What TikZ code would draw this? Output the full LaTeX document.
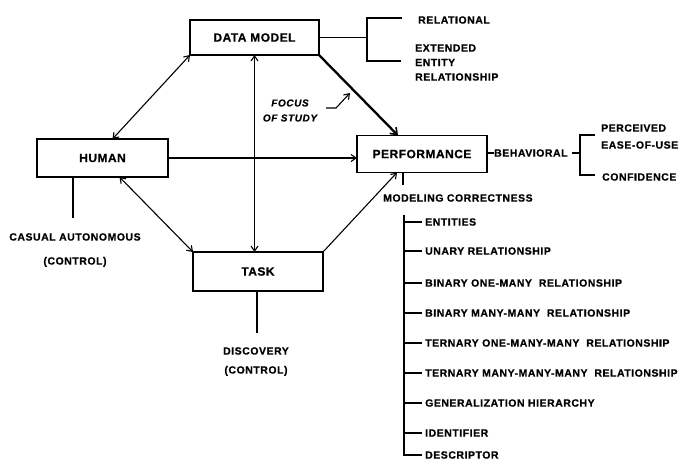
\documentclass[tikz,border=0pt]{standalone}
\usepackage{fontspec}
\setmainfont{Liberation Sans}[FakeBold=0.6]
\usetikzlibrary{arrows.meta}
\begin{document}
\begin{tikzpicture}[x=1pt,y=-1pt,
  box/.style={draw,line width=1.4pt,inner sep=0pt,outer sep=0pt,
    font=\bfseries\fontsize{12}{14}\selectfont\addfontfeature{LetterSpace=4}},
  conn/.style={line width=1.1pt},
  tip/.style={-{Straight Barb[length=5pt,width=7pt,line width=1.1pt]}},
  tips/.style={{Straight Barb[length=5pt,width=7pt,line width=1.1pt]}-{Straight Barb[length=5pt,width=7pt,line width=1.1pt]}},
  lbl/.style={inner sep=0pt,anchor=west,font=\bfseries\fontsize{10.5}{12}\selectfont\addfontfeature{LetterSpace=5}},
  lblc/.style={inner sep=0pt,align=center,font=\bfseries\fontsize{10.5}{12}\selectfont\addfontfeature{LetterSpace=5}}]
\useasboundingbox[fill=white] (0,0) rectangle (690,459);

% boxes
\node[box,minimum width=129pt,minimum height=35pt] (dm) at (254.5,37.5) {DATA MODEL};
\node[box,minimum width=131pt,minimum height=38pt] (hu) at (102.5,158) {HUMAN};
\node[box,minimum width=130pt,minimum height=37pt] (pf) at (422,154) {PERFORMANCE};
\node[box,minimum width=130pt,minimum height=39pt] (tk) at (258,271.5) {TASK};

% main connectors
\draw[conn,tips] (dm.south west) -- ([xshift=10pt]hu.north);
\draw[conn,tips] ([xshift=17pt]hu.south) -- (tk.north west);
\draw[conn,tip] (hu.east) -- (hu.east -| pf.west);
\draw[line width=2.3pt,-{Straight Barb[length=6pt,width=9pt,line width=1.6pt]}] (dm.south east) -- ([xshift=-24pt]pf.north);
\draw[conn,tip] (tk.north east) -- ([xshift=-25pt]pf.south);
\draw[conn,tips] (dm.south) -- (dm.south |- tk.north);

% data model bracket
\coordinate (b1) at (367,37.5);
\coordinate (b1t) at (367,18);
\coordinate (b1b) at (367,61);
\node[lbl] (rel) at (418,20) {RELATIONAL};
\node[lbl,align=left,font=\bfseries\fontsize{10.5}{14.5}\selectfont\addfontfeature{LetterSpace=5}] (eer) at (415,62.5) {EXTENDED\\ENTITY\\RELATIONSHIP};
\draw[conn] (dm.east) -- (b1);
\draw[conn] ([xshift=-16pt]rel.west |- b1t) -- (b1t) -- (b1b) -- ([xshift=-14pt]eer.west |- b1b);

% focus of study
\node[lblc,font=\bfseries\itshape\fontsize{10}{15}\selectfont\addfontfeature{LetterSpace=6}] (fs) at (290,110.5) {FOCUS\\OF STUDY};
\coordinate (h1) at (326,108);
\coordinate (h2) at (336,108);
\coordinate (h3) at (350,93);
\draw[conn,tip] (h1) -- (h2) -- (h3);

% human control
\coordinate (hl) at (73,218);
\draw[conn] (hl |- hu.south) -- (hl);
\node[lblc,font=\bfseries\fontsize{10.5}{24}\selectfont\addfontfeature{LetterSpace=5}] (ca) at (75,250) {CASUAL AUTONOMOUS\\(CONTROL)};

% task control
\coordinate (tl) at (257,333);
\draw[conn] (tl |- tk.south) -- (tl);
\node[lblc,font=\bfseries\fontsize{10.5}{19}\selectfont\addfontfeature{LetterSpace=5}] (dc) at (256,361.5) {DISCOVERY\\(CONTROL)};

% behavioral
\node[lbl] (beh) at (494,153) {BEHAVIORAL};
\draw[conn] (pf.east |- beh.west) -- (beh.west);
\coordinate (bb) at (580,153);
\coordinate (bbt) at (580,135);
\coordinate (bbb) at (580,175);
\node[lbl,align=left,font=\bfseries\fontsize{10.5}{17}\selectfont\addfontfeature{LetterSpace=5}] (pe) at (601,136.5) {PERCEIVED\\EASE-OF-USE};
\node[lbl] (cf) at (602,177) {CONFIDENCE};
\draw[conn] ([xshift=4pt]beh.east) -- (bb);
\draw[conn] ([xshift=-6pt]pe.west |- bbt) -- (bbt) -- (bbb) -- ([xshift=-7pt]cf.west |- bbb);

% modeling correctness
\coordinate (mt) at (403,185);
\draw[conn] (mt |- pf.south) -- (mt);
\node[lbl] (mc) at (383,198) {MODELING CORRECTNESS};
\coordinate (sp) at (404,215);
\node[lbl] (m1) at (425,222) {ENTITIES};
\node[lbl] (m2) at (425,251) {UNARY RELATIONSHIP};
\node[lbl] (m3) at (425,283) {BINARY ONE-MANY\ \ RELATIONSHIP};
\node[lbl] (m4) at (425,313) {BINARY MANY-MANY\ \ RELATIONSHIP};
\node[lbl] (m5) at (425,343) {TERNARY ONE-MANY-MANY\ \ RELATIONSHIP};
\node[lbl] (m6) at (425,373) {TERNARY MANY-MANY-MANY\ \ RELATIONSHIP};
\node[lbl] (m7) at (425,403) {GENERALIZATION HIERARCHY};
\node[lbl] (m8) at (425,433) {IDENTIFIER};
\node[lbl] (m9) at (425,455) {DESCRIPTOR};
\draw[conn] (sp) -- (sp |- m9) -- ([xshift=-3pt]m9.west);
\foreach \m in {m1,m2,m3,m4,m5,m6,m7,m8}
  \draw[conn] (sp |- \m) -- ([xshift=-3pt]\m.west);
\end{tikzpicture}
\end{document}
